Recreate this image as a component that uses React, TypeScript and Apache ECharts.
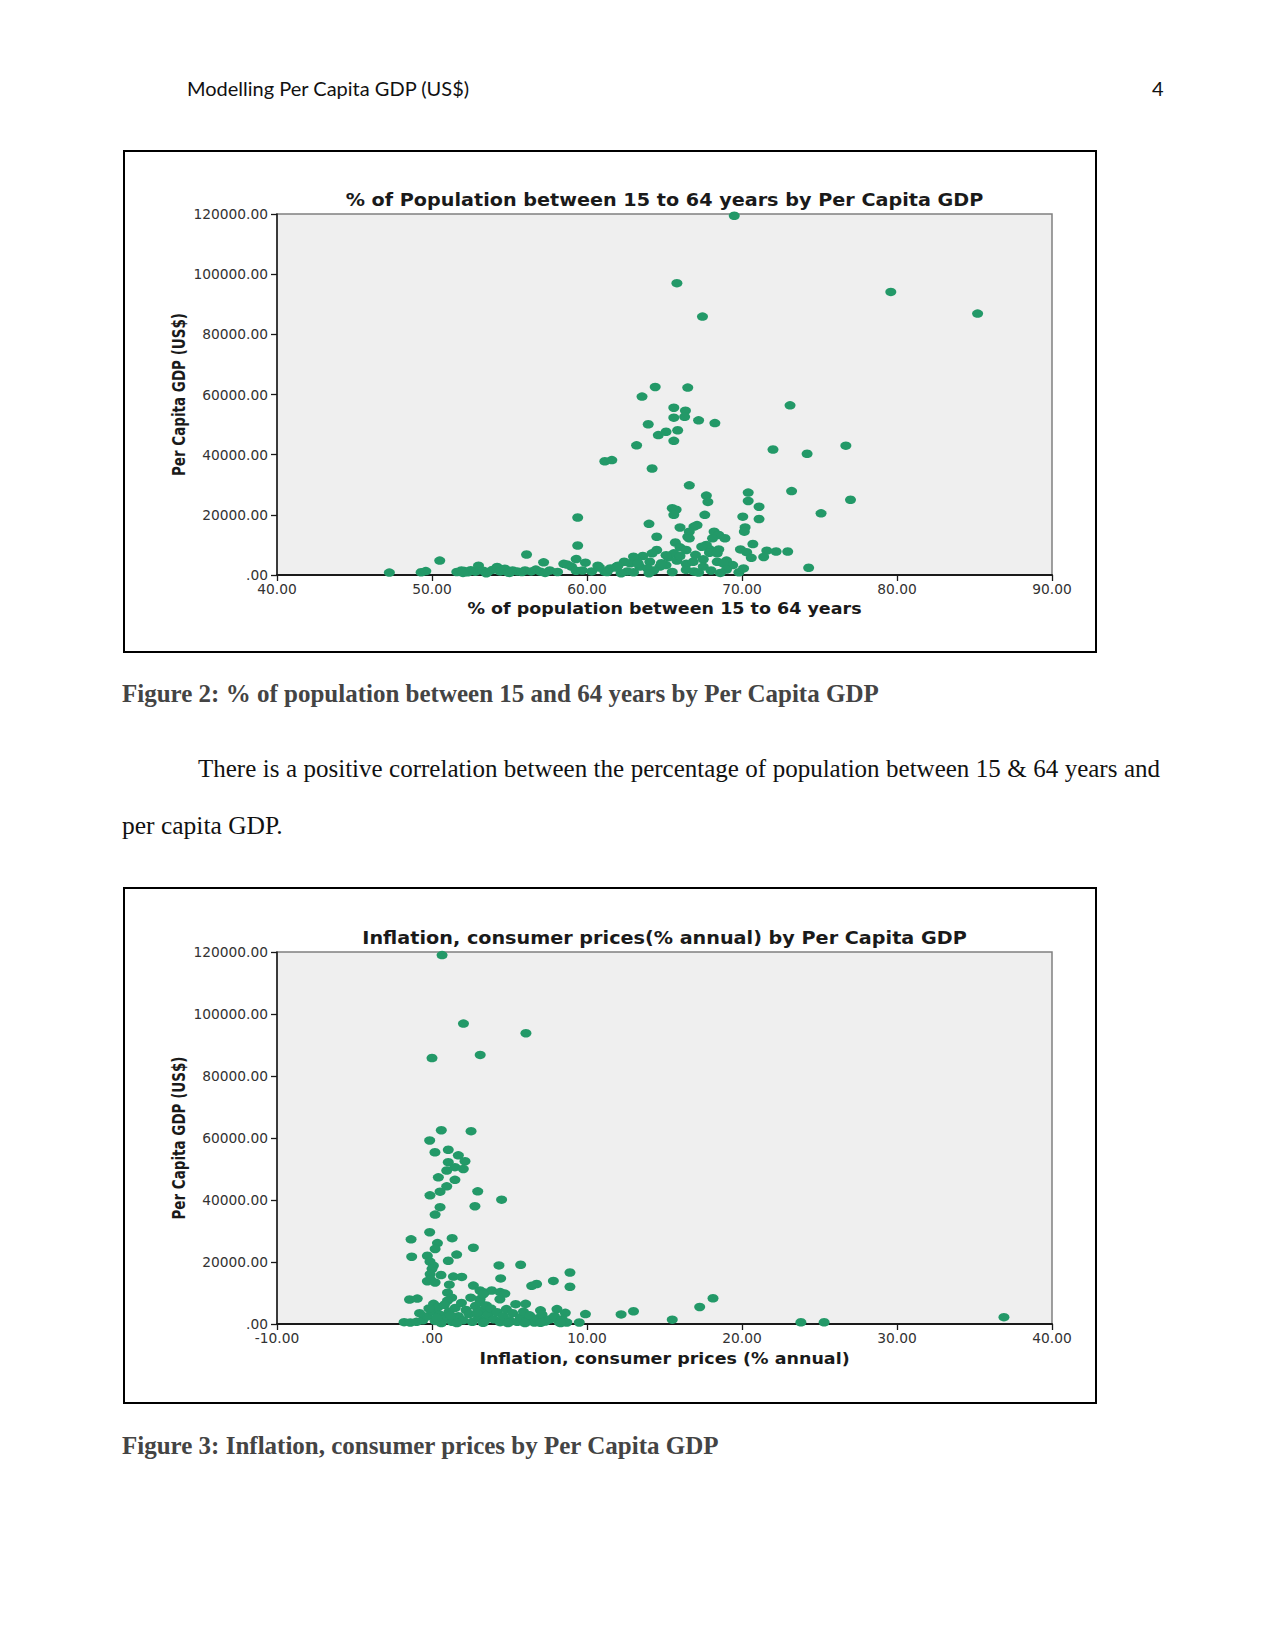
import React, { useEffect, useRef } from "react";
import * as echarts from "echarts";

// ---------- Figure 2 data: % of population 15-64 (x) vs per capita GDP US$ (y)
const popUpper: [number, number][] = [
  [69.5, 119400], [65.8, 97000], [79.6, 94100], [85.2, 86900], [67.45, 85900],
  [64.4, 62500], [66.5, 62300], [63.55, 59300], [73.1, 56400], [65.6, 55600], [66.35, 54600],
  [65.6, 52300], [66.3, 52600], [67.2, 51400], [68.25, 50500], [63.95, 50100], [65.85, 48100],
  [64.6, 46500], [65.1, 47600], [65.6, 44600], [63.2, 43100], [72.0, 41700], [74.2, 40300],
  [76.7, 43000], [61.15, 37800], [61.6, 38200], [64.2, 35400],
];
const popMiddle: [number, number][] = [
  [66.6, 29800], [67.7, 26400], [67.8, 24300], [70.4, 27400], [70.4, 24600], [73.2, 27900],
  [77.0, 25000], [71.1, 22700], [65.5, 22200], [65.75, 21700], [65.6, 20000], [75.1, 20500],
  [67.6, 20000], [70.05, 19400], [71.1, 18600], [64.0, 17000], [66.0, 15800], [67.1, 16600],
  [66.9, 16100], [70.2, 15800], [70.15, 14400], [66.6, 14400], [68.2, 14400], [68.5, 13300],
  [64.5, 12700], [66.5, 12700], [68.1, 12200], [68.9, 12200], [66.6, 12200], [59.4, 19100],
  [59.4, 9800], [65.7, 10800], [66.0, 9200], [66.4, 8300], [67.7, 10000], [67.9, 8600],
  [67.4, 9400], [68.5, 8500], [69.9, 8500], [70.3, 7600], [70.7, 10300], [71.6, 8100],
  [72.2, 7800], [72.95, 7800], [64.5, 8300],
];
const popLower: [number, number][] = [
  [63.6, 6300], [63.1, 5200], [61.9, 2800], [63.4, 2800], [64.05, 4400], [64.7, 2800], [65.25, 5900],
  [65.8, 4800], [66.4, 3700], [67.0, 6700], [67.5, 5200], [67.9, 7400], [68.4, 7200], [69.0, 4800],
  [69.4, 3300], [64.3, 1500], [66.4, 1700], [67.5, 2800], [62.8, 3900], [65.6, 7200], [66.0, 6300],
  [66.85, 4400], [68.4, 4400], [68.8, 3900], [71.4, 6000], [70.6, 5700], [70.1, 2200], [74.3, 2400],
  [65.1, 3300], [63.9, 2200], [62.4, 4400], [61.5, 2200], [63.0, 6100], [64.2, 7200], [64.8, 3900],
  [65.1, 6600], [62.0, 3100], [60.7, 3100], [61.15, 1100], [63.3, 3900], [62.6, 1200], [65.5, 1000],
  [66.9, 1200], [68.0, 1500], [69.0, 1800], [67.2, 800], [63.0, 900], [64.0, 600], [68.6, 700],
  [69.8, 900], [62.2, 600],
];
const popBand: [number, number][] = [
  [47.25, 800], [49.3, 900], [49.6, 1300], [50.5, 4800],
  [51.6, 1000], [51.9, 1500], [52.1, 1300], [52.3, 900], [52.5, 1600], [52.8, 1100], [53.0, 3100],
  [53.3, 1400], [53.6, 1000], [53.9, 1700], [54.2, 2700], [54.4, 1200], [54.7, 2100], [54.9, 900],
  [55.2, 1500], [55.5, 1200], [55.8, 1000], [56.1, 6800], [56.0, 1500], [56.4, 1200], [56.7, 1800],
  [57.0, 1100], [57.2, 4200], [57.6, 1500], [58.1, 1000], [58.5, 3700], [58.7, 3500], [59.0, 2800],
  [59.3, 1400], [59.3, 5300], [59.9, 4100], [59.7, 1500], [60.3, 1200], [60.8, 2500], [61.3, 1000],
  [61.9, 2500], [52.0, 700], [53.5, 600], [55.0, 700], [57.3, 700],
];

// ---------- Figure 3 data: inflation % (x) vs per capita GDP US$ (y)
const inflUpper: [number, number][] = [
  [0.65, 119000], [2.03, 96900], [6.06, 93800], [0.0, 85800], [3.11, 86800], [0.6, 62500],
  [2.52, 62200], [-0.15, 59200], [0.19, 55400], [1.05, 56200], [1.7, 54400], [2.13, 52500],
  [1.05, 52200], [1.48, 50600], [2.02, 50000], [0.95, 49500], [0.41, 47300], [1.48, 46500],
  [0.95, 44400], [0.52, 42700], [-0.13, 41500], [2.95, 42800], [4.49, 40100], [2.77, 38000],
  [0.52, 37700], [0.2, 35300],
];
const inflMiddle: [number, number][] = [
  [-0.15, 29600], [-1.35, 27300], [1.3, 27700], [0.35, 26100], [0.2, 24200], [2.67, 24600],
  [-1.31, 21700], [-0.3, 22000], [-0.13, 20100], [0.09, 18800], [1.05, 20400], [1.59, 22400],
  [4.32, 18900], [5.72, 19100], [8.9, 16600], [4.43, 14700], [7.83, 13900], [6.43, 12300],
  [6.75, 12900], [8.9, 12000], [1.38, 15300], [1.92, 15200], [0.0, 17800], [-0.12, 16100],
  [0.58, 15800], [-0.3, 13800], [-0.1, 14400], [0.2, 13400], [1.12, 12700], [2.67, 12400],
  [3.1, 10800], [3.4, 10200], [3.85, 10800], [4.4, 10300], [4.7, 9800], [1.0, 10100], [1.27, 8500],
  [-1.45, 7900], [-0.95, 8200], [3.1, 8000], [3.3, 9600], [4.38, 8000], [0.1, 6500], [1.0, 7500],
];
const inflOutliers: [number, number][] = [
  [5.4, 6400], [7.0, 4400], [8.06, 4800], [9.9, 3200], [9.5, 500], [12.2, 3100], [13.0, 4100],
  [15.5, 1400], [17.27, 5500], [18.13, 8300], [23.8, 550], [25.3, 550], [36.9, 2200], [6.04, 6500],
];
const inflLower: [number, number][] = [
  [-1.8, 600], [-1.4, 500], [-1.0, 700], [-0.6, 1200], [-0.3, 2500], [0.0, 4200], [0.2, 1000],
  [0.4, 5500], [0.5, 3000], [0.8, 6200], [0.9, 1800], [1.1, 4000], [1.3, 700], [1.5, 5200],
  [1.7, 2500], [1.9, 6800], [2.0, 1200], [2.2, 4500], [2.4, 3200], [2.6, 700], [2.8, 5800],
  [3.0, 2000], [3.1, 7000], [3.2, 4200], [3.4, 1000], [3.5, 6000], [3.6, 3000], [3.8, 5000],
  [4.0, 1500], [4.2, 3800], [4.4, 600], [4.6, 2500], [4.8, 4800], [5.0, 1200], [5.2, 3500],
  [5.5, 700], [5.7, 2200], [5.9, 4000], [6.1, 1000], [6.3, 2800], [6.6, 500], [6.8, 1800],
  [7.1, 3000], [7.3, 800], [7.6, 1500], [7.9, 2500], [8.2, 600], [8.4, 1500], [8.6, 3600],
  [8.7, 500], [-0.8, 3500], [2.5, 8500], [-0.2, 5000], [0.6, 300], [1.6, 300], [3.3, 400],
  [4.9, 300], [6.0, 300], [7.0, 400], [8.3, 300], [0.3, 2000], [1.2, 2800], [2.9, 3600],
];

const yTicks = { min: 0, max: 120000, interval: 20000 };
const fig2X = { min: 40, max: 90, interval: 10 };
const fig3X = { min: -10, max: 40, interval: 10 };

const fmt = (v: number) => (v === 0 ? ".00" : v.toFixed(2));

const GREEN = "#239968";
const STRETCH = 1.13;

function buildOption(cfg: any) {
  const { W, H, gridTop, gridH, title, titleY, xName, xNameY, xRange, data } = cfg;
  const gridLeft = 154;
  const gridW = 775;
  const cx = gridLeft + gridW / 2;
  const axisLabel = { formatter: fmt, color: "#333333", fontFamily: "DejaVu Sans", fontSize: 13.8 };
  return {
    animation: false,
    grid: {
      left: gridLeft, top: gridTop, width: gridW, height: gridH, show: true,
      backgroundColor: "#efefef", borderColor: "#808080", borderWidth: 1.5,
    },
    xAxis: {
      type: "value", min: xRange.min, max: xRange.max, interval: xRange.interval,
      axisLine: { show: true, onZero: false, lineStyle: { color: "#1a1a1a", width: 2 } },
      axisTick: { show: true, length: 6, lineStyle: { color: "#1a1a1a", width: 1.3 } },
      axisLabel: { ...axisLabel, margin: 7 },
      splitLine: { show: false },
    },
    yAxis: {
      type: "value", min: yTicks.min, max: yTicks.max, interval: yTicks.interval,
      axisLine: { show: true, onZero: false, lineStyle: { color: "#1a1a1a", width: 1.5 } },
      axisTick: { show: true, length: 6, lineStyle: { color: "#1a1a1a", width: 1.3 } },
      axisLabel: { ...axisLabel, margin: 9 },
      splitLine: { show: false },
    },
    series: [
      {
        type: "scatter", data, symbol: "circle", symbolSize: [11, 8.5],
        itemStyle: { color: GREEN, opacity: 1 },
      },
    ],
    graphic: [
      {
        type: "rect", silent: true,
        shape: { x: 1, y: 1, width: W - 2, height: H - 2 },
        style: { fill: "none", stroke: "#000", lineWidth: 2 },
      },
      {
        type: "text", x: cx, y: titleY, scaleX: STRETCH, silent: true,
        style: {
          text: title, fill: "#1a1a1a", font: "bold 17px DejaVu Sans",
          textAlign: "center", textVerticalAlign: "middle",
        },
      },
      {
        type: "text", x: cx, y: xNameY, scaleX: STRETCH, silent: true,
        style: {
          text: xName, fill: "#1a1a1a", font: "bold 15.5px DejaVu Sans",
          textAlign: "center", textVerticalAlign: "middle",
        },
      },
      {
        type: "text", x: 56, y: gridTop + gridH / 2, rotation: Math.PI / 2, scaleY: 1.35, silent: true,
        style: {
          text: "Per Capita GDP (US$)", fill: "#1a1a1a",
          font: "bold 13.5px DejaVu Sans",
          textAlign: "center", textVerticalAlign: "middle",
        },
      },
    ],
  };
}

function ScatterChart({ option, style }: { option: any; style: React.CSSProperties }) {
  const ref = useRef<HTMLDivElement>(null);
  useEffect(() => {
    if (!ref.current) return;
    const chart = echarts.init(ref.current, null, { renderer: "svg" });
    chart.setOption(option);
    return () => chart.dispose();
  }, [option]);
  return <div ref={ref} style={style} />;
}

const fig2Option = buildOption({
  W: 974, H: 503, gridTop: 64, gridH: 361,
  title: "% of Population between 15 to 64 years by Per Capita GDP", titleY: 50,
  xName: "% of population between 15 to 64 years", xNameY: 459,
  xRange: fig2X, data: [...popUpper, ...popMiddle, ...popLower, ...popBand],
});

const fig3Option = buildOption({
  W: 974, H: 517, gridTop: 65, gridH: 372,
  title: "Inflation, consumer prices(% annual) by Per Capita GDP", titleY: 51,
  xName: "Inflation, consumer prices (% annual)", xNameY: 472,
  xRange: fig3X, data: [...inflUpper, ...inflMiddle, ...inflOutliers, ...inflLower],
});

const serif = '"Liberation Serif", "Times New Roman", serif';

export default function App() {
  const abs = (left: number, top: number, extra: React.CSSProperties = {}): React.CSSProperties => ({
    position: "absolute", left, top, margin: 0, whiteSpace: "nowrap", lineHeight: 1, ...extra,
  });
  return (
    <div style={{ position: "absolute", left: 0, top: 0, width: 1275, height: 1650, background: "#fff", overflow: "hidden" }}>
      <div style={abs(187, 78, { fontFamily: "Lato, sans-serif", fontSize: 20, color: "#111" })}>
        Modelling Per Capita GDP (US$)
      </div>
      <div style={abs(1152, 78, { fontFamily: "Lato, sans-serif", fontSize: 20, color: "#111" })}>4</div>

      <ScatterChart option={fig2Option} style={{ position: "absolute", left: 123, top: 150, width: 974, height: 503 }} />

      <div style={abs(122, 681, { fontFamily: serif, fontSize: 25, fontWeight: "bold", color: "#444" })}>
        Figure 2: % of population between 15 and 64 years by Per Capita GDP
      </div>

      <div style={abs(198, 756, { fontFamily: serif, fontSize: 25, color: "#111", width: 962, textAlign: "justify", textAlignLast: "justify" as any })}>
        There is a positive correlation between the percentage of population between 15 &amp; 64 years and
      </div>
      <div style={abs(122, 813, { fontFamily: serif, fontSize: 25.5, color: "#111" })}>per capita GDP.</div>

      <ScatterChart option={fig3Option} style={{ position: "absolute", left: 123, top: 887, width: 974, height: 517 }} />

      <div style={abs(122, 1433, { fontFamily: serif, fontSize: 25, fontWeight: "bold", color: "#444" })}>
        Figure 3: Inflation, consumer prices by Per Capita GDP
      </div>
    </div>
  );
}
